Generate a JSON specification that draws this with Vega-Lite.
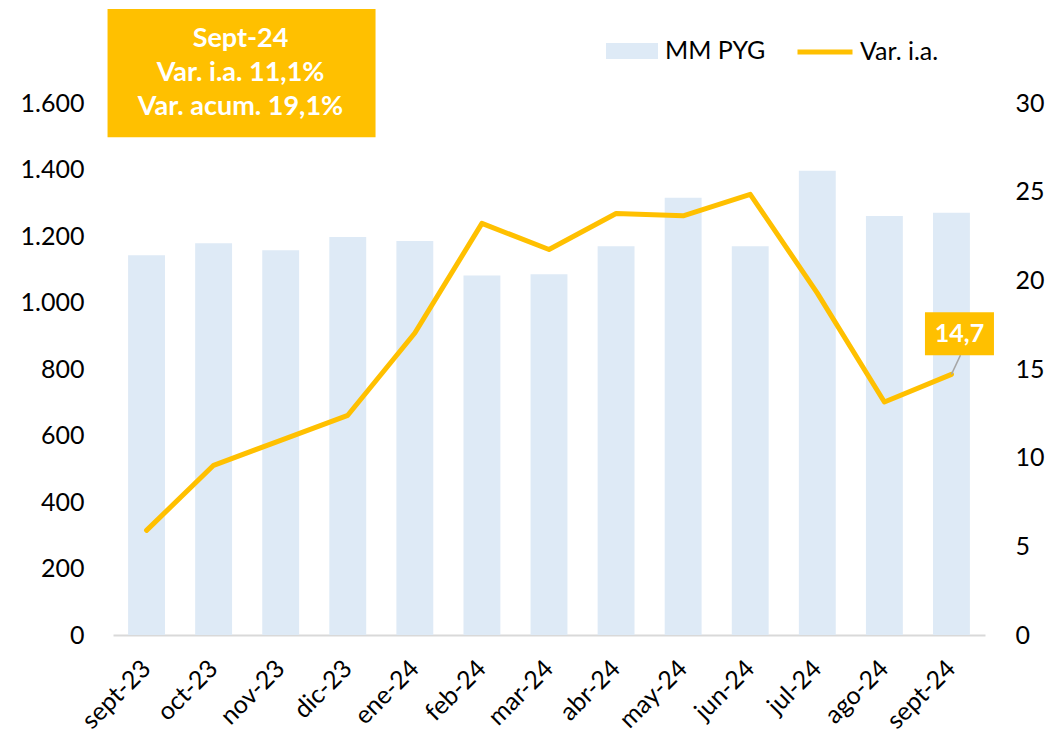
{
  "$schema": "https://vega.github.io/schema/vega-lite/v6.json",
  "width": 872,
  "height": 532,
  "autosize": "none",
  "padding": {"left": 113, "top": 103, "right": 63, "bottom": 100},
  "config": {
    "locale": {"number": {"decimal": ",", "thousands": ".", "grouping": [3], "currency": ["", ""]}},
    "view": {"stroke": null},
    "font": "Lato",
    "axis": {"grid": false, "ticks": false, "labelFontSize": 25, "labelColor": "#000000", "labelFont": "Lato", "title": null},
    "legend": {"labelFontSize": 25, "labelColor": "#000000", "labelFont": "Lato", "padding": 0}
  },
  "data": {
    "values": [
      {"mes": "sept-23", "mm": 1142, "var": 5.90},
      {"mes": "oct-23", "mm": 1178, "var": 9.57},
      {"mes": "nov-23", "mm": 1157, "var": 10.98},
      {"mes": "dic-23", "mm": 1197, "var": 12.39},
      {"mes": "ene-24", "mm": 1185, "var": 17.03},
      {"mes": "feb-24", "mm": 1081, "var": 23.21},
      {"mes": "mar-24", "mm": 1085, "var": 21.74},
      {"mes": "abr-24", "mm": 1169, "var": 23.77},
      {"mes": "may-24", "mm": 1315, "var": 23.64},
      {"mes": "jun-24", "mm": 1169, "var": 24.85},
      {"mes": "jul-24", "mm": 1396, "var": 19.28},
      {"mes": "ago-24", "mm": 1260, "var": 13.14},
      {"mes": "sept-24", "mm": 1270, "var": 14.7}
    ]
  },
  "encoding": {
    "x": {
      "field": "mes",
      "type": "nominal",
      "sort": null,
      "scale": {"paddingInner": 0.45, "paddingOuter": 0.225},
      "axis": {"labelAngle": -45, "labelAlign": "right", "labelBaseline": "middle", "labelPadding": 29, "labelFontSize": 25, "domain": true, "domainColor": "#D9D9D9", "domainWidth": 2}
    }
  },
  "layer": [
    {
      "layer": [
        {
          "mark": {"type": "bar"},
          "encoding": {
            "y": {"field": "mm", "type": "quantitative", "scale": {"domain": [0, 1600], "nice": false},
              "axis": {"orient": "left", "values": [0, 200, 400, 600, 800, 1000, 1200, 1400, 1600], "domain": false, "labelPadding": 29, "format": ",.0f"}},
            "fill": {"datum": "MM PYG", "type": "nominal", "scale": {"range": ["#DEEAF6"]},
              "legend": {"orient": "none", "legendX": 493, "legendY": -78, "title": null, "symbolType": "M-1,-0.31L1,-0.31L1,0.31L-1,0.31Z", "symbolSize": 2704, "symbolStrokeWidth": 0, "symbolOpacity": 1, "labelOffset": 7}}
          }
        },
        {
          "transform": [{"filter": "datum.mes == 'sept-23'"}],
          "mark": {"type": "bar", "color": "#FFC000", "width": 268, "xOffset": 95},
          "encoding": {
            "y": {"datum": 1883, "type": "quantitative", "scale": {"domain": [0, 1600], "nice": false}},
            "y2": {"datum": 1497}
          }
        },
        {
          "transform": [{"filter": "datum.mes == 'sept-23'"}],
          "mark": {"type": "text", "text": ["Sept-24", "Var. i.a. 11,1%", "Var. acum. 19,1%"], "color": "#FFFFFF", "fontWeight": "bold", "fontSize": 27, "lineHeight": 34, "align": "center", "baseline": "middle", "xOffset": 94},
          "encoding": {
            "y": {"datum": 1791, "type": "quantitative", "scale": {"domain": [0, 1600], "nice": false}}
          }
        }
      ]
    },
    {
      "layer": [
        {
          "mark": {"type": "line", "strokeWidth": 5, "strokeCap": "round", "strokeJoin": "round"},
          "encoding": {
            "y": {"field": "var", "type": "quantitative", "scale": {"domain": [0, 30], "nice": false},
              "axis": {"orient": "right", "values": [0, 5, 10, 15, 20, 25, 30], "domain": false, "labelPadding": 30}},
            "stroke": {"datum": "Var. i.a.", "type": "nominal", "scale": {"range": ["#FFC000"]},
              "legend": {"orient": "none", "legendX": 682, "legendY": -81, "title": null, "symbolType": "stroke", "symbolSize": 3025, "symbolStrokeWidth": 5, "labelOffset": 5}}
          }
        },
        {
          "transform": [{"filter": "datum.mes == 'sept-24'"}],
          "mark": {"type": "rule", "color": "#A6A6A6", "strokeWidth": 1.5, "x2Offset": 9},
          "encoding": {
            "x2": {"field": "mes"},
            "y": {"datum": 14.7, "type": "quantitative", "scale": {"domain": [0, 30], "nice": false}},
            "y2": {"datum": 15.78}
          }
        },
        {
          "transform": [{"filter": "datum.mes == 'sept-24'"}],
          "mark": {"type": "bar", "color": "#FFC000", "width": 69, "xOffset": 8},
          "encoding": {
            "y": {"datum": 18.2, "type": "quantitative", "scale": {"domain": [0, 30], "nice": false}},
            "y2": {"datum": 15.78}
          }
        },
        {
          "transform": [{"filter": "datum.mes == 'sept-24'"}],
          "mark": {"type": "text", "color": "#FFFFFF", "fontWeight": "bold", "fontSize": 25, "align": "center", "baseline": "middle", "xOffset": 8},
          "encoding": {
            "text": {"field": "var", "type": "quantitative", "format": ",.1f"},
            "y": {"datum": 17.0, "type": "quantitative", "scale": {"domain": [0, 30], "nice": false}}
          }
        }
      ]
    }
  ],
  "resolve": {"scale": {"y": "independent", "fill": "independent", "stroke": "independent"}}
}
